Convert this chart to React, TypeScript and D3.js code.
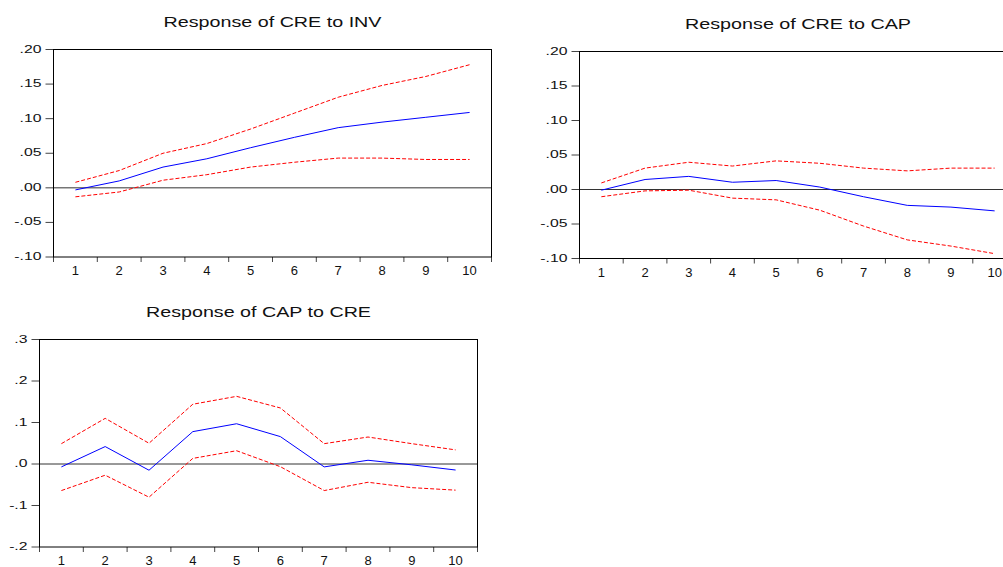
import React from "react";
import * as d3 from "d3";

// periods on the x axis
const periods = [1, 2, 3, 4, 5, 6, 7, 8, 9, 10];

// Response of CRE to INV
const creInvResp = [-0.003, 0.01, 0.03, 0.042, 0.058, 0.073, 0.087, 0.095, 0.102, 0.109];
const creInvUpper = [0.008, 0.025, 0.05, 0.064, 0.085, 0.108, 0.131, 0.148, 0.161, 0.178];
const creInvLower = [-0.013, -0.006, 0.011, 0.019, 0.03, 0.037, 0.043, 0.043, 0.041, 0.041];
const creInvTicks = [0.2, 0.15, 0.1, 0.05, 0, -0.05, -0.1];
const creInvTickLabels = [".20", ".15", ".10", ".05", ".00", "-.05", "-.10"];

// Response of CRE to CAP
const creCapResp = [-0.001, 0.0145, 0.019, 0.0105, 0.013, 0.0035, -0.0105, -0.023, -0.0255, -0.031];
const creCapUpper = [0.0095, 0.031, 0.0395, 0.034, 0.0415, 0.038, 0.031, 0.027, 0.031, 0.031];
const creCapLower = [-0.0105, -0.002, -0.001, -0.0125, -0.015, -0.03, -0.053, -0.073, -0.082, -0.093];
const creCapTicks = [0.2, 0.15, 0.1, 0.05, 0, -0.05, -0.1];
const creCapTickLabels = [".20", ".15", ".10", ".05", ".00", "-.05", "-.10"];

// Response of CAP to CRE
const capCreResp = [-0.007, 0.042, -0.015, 0.078, 0.097, 0.066, -0.007, 0.009, -0.002, -0.0145];
const capCreUpper = [0.049, 0.11, 0.05, 0.144, 0.163, 0.135, 0.049, 0.065, 0.049, 0.034];
const capCreLower = [-0.064, -0.027, -0.08, 0.0135, 0.032, -0.0065, -0.064, -0.044, -0.057, -0.063];
const capCreTicks = [0.3, 0.2, 0.1, 0, -0.1, -0.2];
const capCreTickLabels = [".3", ".2", ".1", ".0", "-.1", "-.2"];

const FONT = "'Liberation Sans', Arial, sans-serif";

type PanelProps = {
  title: string;
  titleWidth: number;
  left: number;
  top: number;
  width: number;
  height: number;
  ticks: number[];
  tickLabels: string[];
  resp: number[];
  upper: number[];
  lower: number[];
};

const Panel = ({ title, titleWidth, left, top, width, height, ticks, tickLabels, resp, upper, lower }: PanelProps) => {
  const x = d3
    .scaleBand<number>()
    .domain(periods)
    .range([left, left + width]);

  const y = d3
    .scaleLinear()
    .domain([d3.min(ticks) as number, d3.max(ticks) as number])
    .range([top + height, top]);

  const cx = (p: number) => (x(p) as number) + x.bandwidth() / 2;

  const line = d3
    .line<number>()
    .x((d, i) => cx(periods[i]))
    .y((d) => y(d));

  const bottom = top + height;
  // tick marks at band boundaries
  const bounds = periods.map((p) => x(p) as number).concat([left + width]);

  return (
    <g>
      <text
        x={left + width / 2}
        y={top - 22.5}
        textAnchor="middle"
        fontFamily={FONT}
        fontSize={15.5}
        textLength={titleWidth}
        lengthAdjust="spacingAndGlyphs"
        fill="#111"
      >
        {title}
      </text>

      {/* y ticks */}
      {ticks.map((t, i) => (
        <g key={"y" + i}>
          <line x1={left - 8} x2={left} y1={y(t)} y2={y(t)} stroke="#444" strokeWidth={1} />
          <g transform={`translate(${left - 12},${y(t) + 3}) scale(1.5,1)`}>
            <text textAnchor="end" fontFamily={FONT} fontSize={10.5} fill="#111">
              {tickLabels[i]}
            </text>
          </g>
        </g>
      ))}

      {/* x ticks */}
      {bounds.map((b, i) => (
        <line key={"xt" + i} x1={b} x2={b} y1={bottom} y2={bottom + 5} stroke="#444" strokeWidth={1} />
      ))}
      {periods.map((p) => (
        <text key={"xl" + p} x={cx(p)} y={bottom + 18} textAnchor="middle" fontFamily={FONT} fontSize={13} fill="#111">
          {p}
        </text>
      ))}

      {/* zero line */}
      <line x1={left} x2={left + width} y1={y(0)} y2={y(0)} stroke="#333" strokeWidth={1} />

      <path d={line(upper) || ""} fill="none" stroke="#ff0000" strokeWidth={1} strokeDasharray="4 2" />
      <path d={line(lower) || ""} fill="none" stroke="#ff0000" strokeWidth={1} strokeDasharray="4 2" />
      <path d={line(resp) || ""} fill="none" stroke="#0000ff" strokeWidth={1} />

      <rect x={left} y={top} width={width} height={height} fill="none" stroke="#000" strokeWidth={1} />
    </g>
  );
};

const App = () => {
  return (
    <svg
      width={1003}
      height={567}
      style={{ position: "absolute", left: 0, top: 0, background: "#fff" }}
    >
      <rect x={0} y={0} width={1003} height={567} fill="#fff" />
      <Panel
        title="Response of CRE  to INV"
        titleWidth={218}
        left={53.5}
        top={49.5}
        width={438}
        height={207.5}
        ticks={creInvTicks}
        tickLabels={creInvTickLabels}
        resp={creInvResp}
        upper={creInvUpper}
        lower={creInvLower}
      />
      <Panel
        title="Response of CRE to CAP"
        titleWidth={226}
        left={579.5}
        top={51.5}
        width={437}
        height={207}
        ticks={creCapTicks}
        tickLabels={creCapTickLabels}
        resp={creCapResp}
        upper={creCapUpper}
        lower={creCapLower}
      />
      <Panel
        title="Response of CAP to CRE"
        titleWidth={225}
        left={39.5}
        top={339.5}
        width={438}
        height={207.5}
        ticks={capCreTicks}
        tickLabels={capCreTickLabels}
        resp={capCreResp}
        upper={capCreUpper}
        lower={capCreLower}
      />
    </svg>
  );
};

export default App;
